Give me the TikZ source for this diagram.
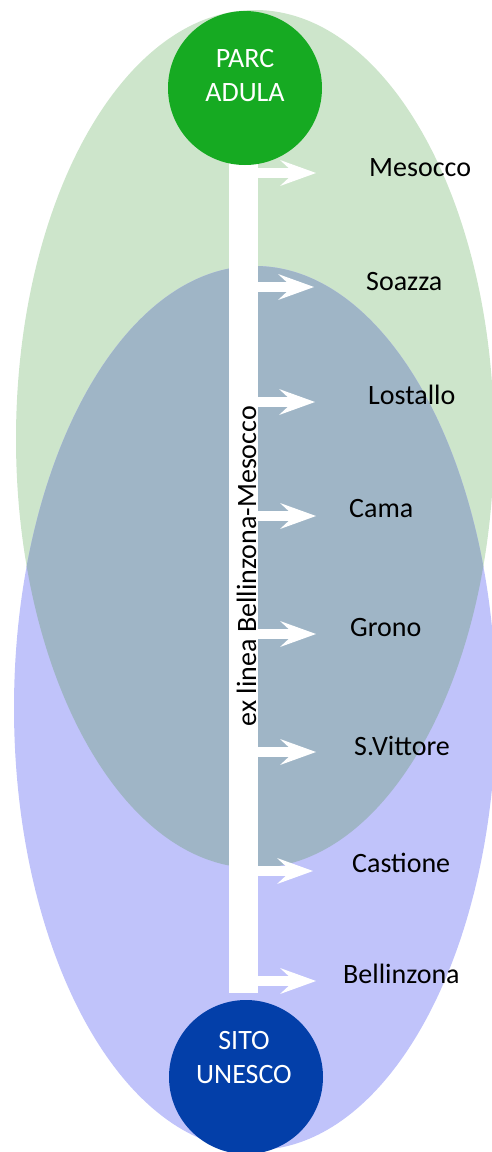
\documentclass[tikz,border=0pt]{standalone}
\usepackage{fontspec}
\setmainfont{Carlito}
\usetikzlibrary{arrows.meta}

\definecolor{adulazone}{RGB}{205,229,203}
\definecolor{unescozone}{RGB}{192,195,250}
\definecolor{bothzone}{RGB}{159,181,198}
\definecolor{adulagreen}{RGB}{22,170,34}
\definecolor{unescoblue}{RGB}{3,63,169}

\begin{document}
\begin{tikzpicture}[x=1pt, y=-1pt,
    hub/.style={circle, minimum size=154pt, inner sep=0pt},
    hubtext/.style={align=center, text=white, inner sep=0pt, font=\fontsize{28}{34}\selectfont},
    stop/.style={anchor=base west, inner sep=0pt, font=\fontsize{28}{34}\selectfont},
    tram/.style={white, line width=10pt, -{Stealth[length=36pt, width=26pt, inset=14pt, line width=0pt]}}
  ]
    \useasboundingbox (0,0) rectangle (491,1152);

    % the two areas and their overlap
    \fill[adulazone] (255,439) ellipse [x radius=239, y radius=429];
    \fill[unescozone] (255,708) ellipse [x radius=241, y radius=442];
    \begin{scope}
      \clip (255,439) ellipse [x radius=239, y radius=429];
      \fill[bothzone] (255,708) ellipse [x radius=241, y radius=442];
    \end{scope}

    % old railway line
    \node[fill=white, minimum width=29pt, minimum height=830pt, inner sep=0pt] (linea) at (243.5,578) {};
    \node[anchor=base, rotate=90, inner sep=0pt, font=\fontsize{28}{34}\selectfont] (lineatext) at (256,566) {ex linea Bellinzona-Mesocco};

    \node[hub, fill=adulagreen] (adula) at (245,88) {};
    \node[hubtext] (adulatext) at (245,76) {PARC\\ADULA};
    \node[hub, fill=unescoblue] (unesco) at (246,1077) {};
    \node[hubtext] (unescotext) at (244,1058) {SITO\\UNESCO};

    % stations
    \node[stop] (mesocco) at (369,176) {Mesocco};
    \node[stop] (soazza) at (366,290) {Soazza};
    \node[stop] (lostallo) at (368,404) {Lostallo};
    \node[stop] (cama) at (349,517) {Cama};
    \node[stop] (grono) at (350,636) {Grono};
    \node[stop] (vittore) at (354,755) {S.Vittore};
    \node[stop] (castione) at (352,872) {Castione};
    \node[stop] (bellinzona) at (343,983) {Bellinzona};

    \coordinate (mesoccotip) at (316,173);
    \coordinate (soazzatip) at (314,287);
    \coordinate (lostallotip) at (315,402);
    \coordinate (camatip) at (316,516);
    \coordinate (gronotip) at (316,634);
    \coordinate (vittoretip) at (316,752);
    \coordinate (castionetip) at (313,871);
    \coordinate (bellinzonatip) at (316,981);

    \draw[tram] (linea.east |- mesoccotip) -- (mesoccotip);
    \draw[tram] (linea.east |- soazzatip) -- (soazzatip);
    \draw[tram] (linea.east |- lostallotip) -- (lostallotip);
    \draw[tram] (linea.east |- camatip) -- (camatip);
    \draw[tram] (linea.east |- gronotip) -- (gronotip);
    \draw[tram] (linea.east |- vittoretip) -- (vittoretip);
    \draw[tram] (linea.east |- castionetip) -- (castionetip);
    \draw[tram] (linea.east |- bellinzonatip) -- (bellinzonatip);
  \end{tikzpicture}
\end{document}
